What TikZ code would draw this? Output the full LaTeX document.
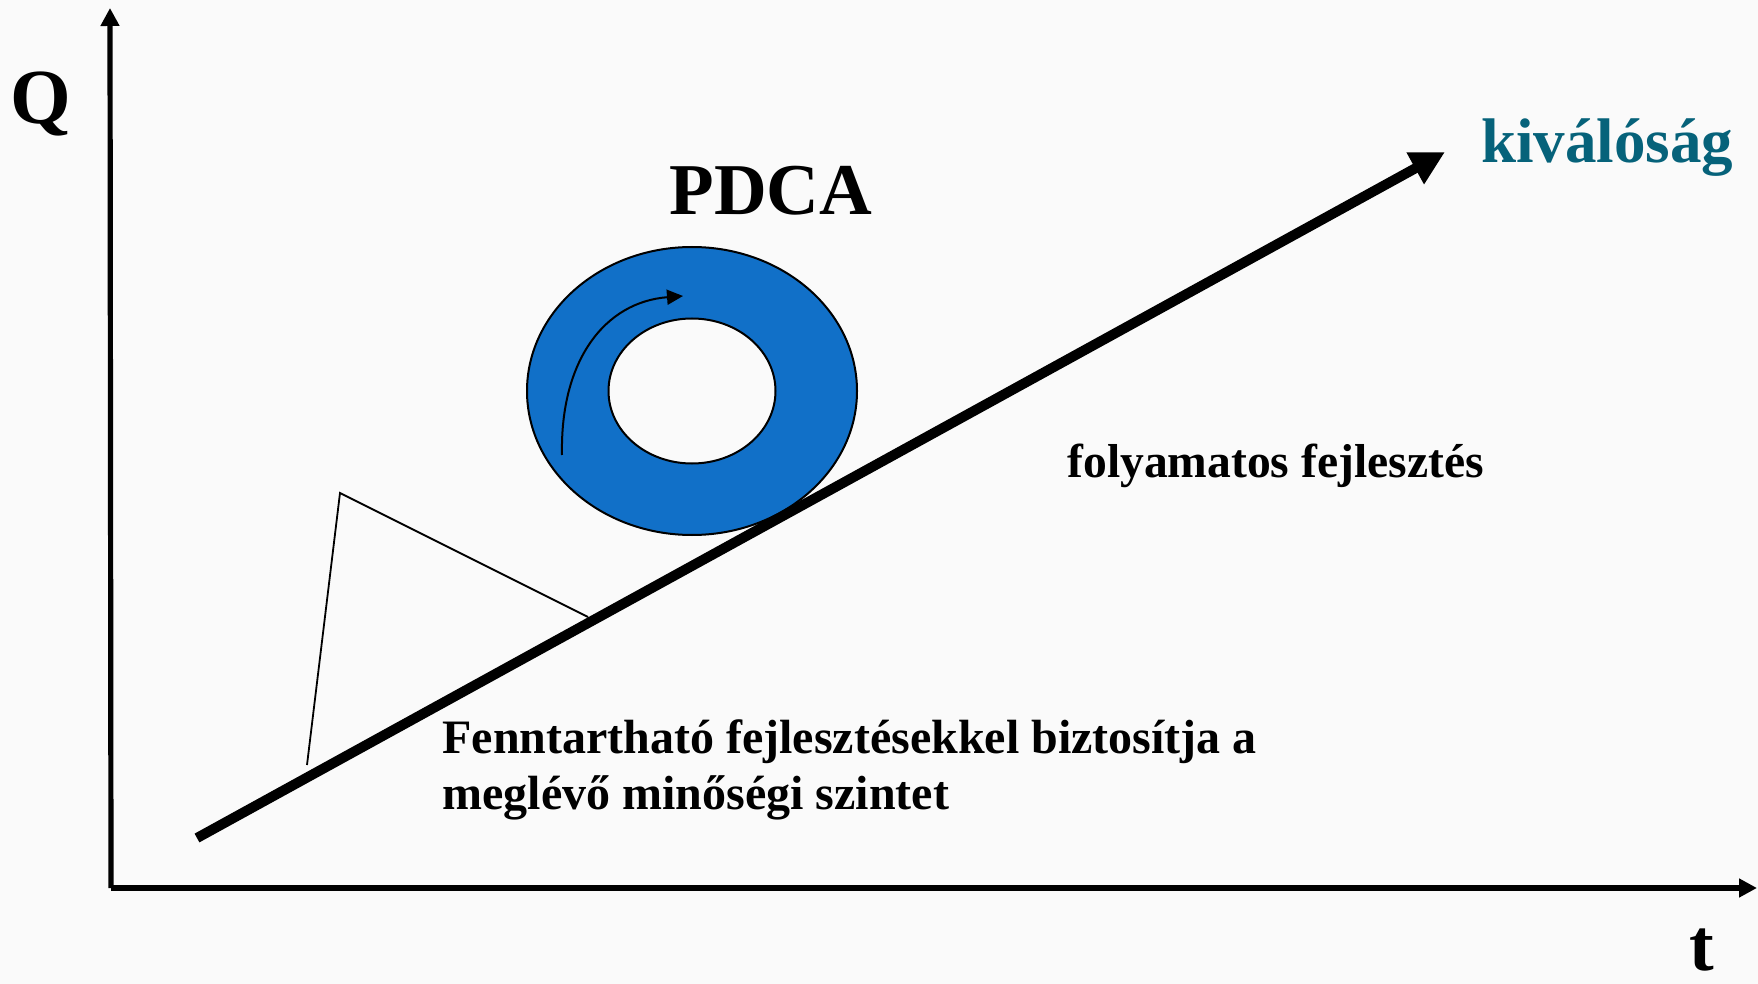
\documentclass[tikz,border=0pt]{standalone}
\usepackage{fontspec}
\setmainfont{Liberation Serif}
\usetikzlibrary{arrows.meta}
\definecolor{bgc}{HTML}{FAFAFA}
\definecolor{teal}{RGB}{6,98,122}
\definecolor{ringblue}{RGB}{17,112,200}
\tikzset{
  axis/.style={line width=2.6pt,-{Triangle[length=9pt,width=9pt]}},
  mainarrow/.style={line width=5pt,-{Triangle[length=17pt,width=17pt]}},
  thin line/.style={line width=0.9pt},
  lbl/.style={font=\bfseries, inner sep=0pt},
}
\begin{document}
\begin{tikzpicture}[x=0.5pt,y=-0.5pt]
\useasboundingbox (0,0) rectangle (1758,984);
\clip (0,0) rectangle (1758,984);
\fill[bgc] (0,0) rectangle (1758,984);
% axes
\coordinate (origin) at (111,888);
\coordinate (ytop) at (110,8);
\coordinate (xend) at (1757,888);
\draw[axis] (origin) -- (ytop);
\draw[axis] (origin) -- (xend);
\node[lbl, anchor=base, font=\fontsize{39}{44}\selectfont\bfseries] (Q) at (41,124) {Q};
\node[lbl, anchor=base, font=\fontsize{37}{42}\selectfont\bfseries] (t) at (1702,970) {t};
% ring
\fill[ringblue, even odd rule, draw=black, line width=1pt]
  (692,391) ellipse [x radius=165, y radius=144]
  (692,391) ellipse [x radius=83.5, y radius=72.5];
\node[draw=none, inner sep=0pt, minimum width=330, minimum height=288] (ring) at (692,391) {};
\coordinate (c1) at (562,455);
\coordinate (c2) at (683,296);
\draw[line width=1pt, -{Triangle[length=8pt,width=7.5pt]}] (c1) .. controls (560,360) and (605,302) .. (c2);
% main arrow
\coordinate (ms) at (197,838);
\coordinate (me) at (1445,152);
\draw[mainarrow] (ms) -- (me);
% triangle pointer
\coordinate (p1) at (307,765);
\coordinate (p2) at (340,493);
\coordinate (p3) at (588,617);
\draw[thin line] (p1) -- (p2) -- (p3);
% labels
\node[lbl, anchor=base, font=\fontsize{36.5}{42}\selectfont\bfseries] (pdca) at (771,215) {PDCA};
\node[lbl, anchor=base west, text=teal, font=\fontsize{31.5}{36}\selectfont\bfseries] (kiv) at (1481,163) {kiválóság};
\node[lbl, anchor=base west, font=\fontsize{23.8}{28}\selectfont\bfseries] (foly) at (1067,478) {folyamatos fejlesztés};
\node[lbl, anchor=base west, font=\fontsize{24}{27.7}\selectfont\bfseries, align=left] (fenn) at (442,809) {Fenntartható fejlesztésekkel biztosítja a\\meglévő minőségi szintet};
\end{tikzpicture}
\end{document}
